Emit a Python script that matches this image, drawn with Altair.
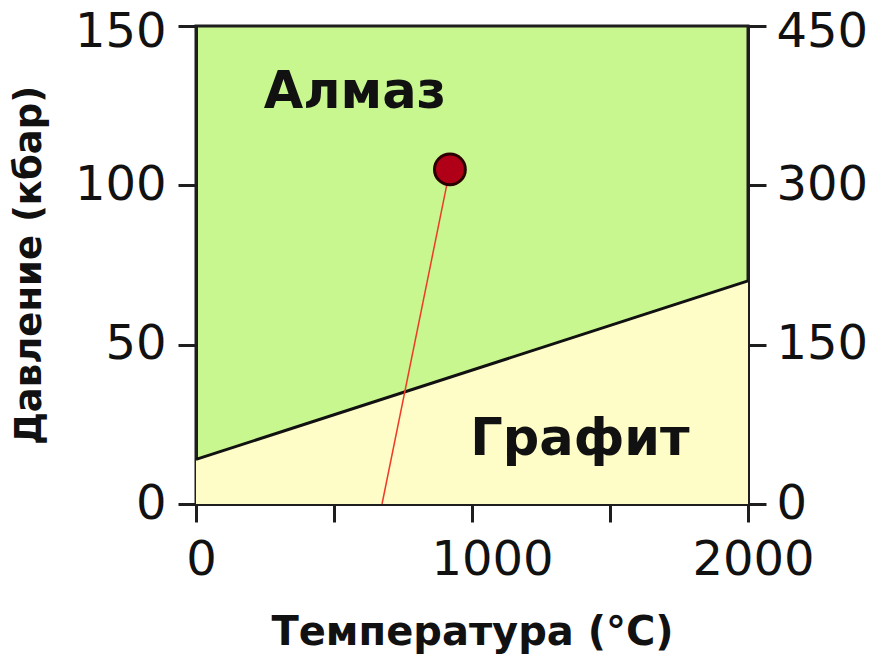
import altair as alt
import pandas as pd

# ---- data ----
temp_bound = [0, 2000]          # °C
press_bound = [14, 70]          # kbar, graphite/diamond boundary
path_temp = [674, 920]          # red path
path_press = [0, 105]
dot_temp = [920]
dot_press = [105]
phase_names = ["Алмаз", "Графит"]
phase_temp = [576, 1391]
phase_press = [129, 20]
x_ticks = [0, 500, 1000, 1500, 2000]
y_ticks = [0, 50, 100, 150]
y2_ticks = [0, 150, 300, 450]

FONT = "DejaVu Sans"
GREEN = "#c8f78f"
YELLOW = "#fefdc8"
DARK = "#1e1e1e"

bound_df = pd.DataFrame({"t": temp_bound, "p": press_bound})
path_df = pd.DataFrame({"t": path_temp, "p": path_press})
dot_df = pd.DataFrame({"t": dot_temp, "p": dot_press})
phase_df = pd.DataFrame({"name": phase_names, "t": phase_temp, "p": phase_press})
right_df = pd.DataFrame({"t": [0], "v": [0]})

xs = alt.Scale(domain=[0, 2000], nice=False, zero=False)
ys = alt.Scale(domain=[0, 150], nice=False)

common_axis = dict(
    domainColor=DARK, domainWidth=3, tickColor=DARK, tickWidth=3, tickSize=18,
    labelFont=FONT, labelFontSize=48, labelColor="#111", grid=False,
    titleFont=FONT, titleFontWeight="bold", titleColor="#111",
)

x_axis = alt.Axis(
    values=x_ticks, format="d",
    labelExpr="datum.value % 1000 == 0 ? datum.label : ''",
    labelOffset={"condition": {"test": "datum.value == 1000", "value": 20}, "value": 5},
    title="Температура (°C)", titleFontSize=40, titlePadding=28,
    labelPadding=14, labelFlush=False, labelOverlap=False,
    **common_axis,
)
y_axis = alt.Axis(
    values=y_ticks, format="d", title="Давление (кбар)",
    labelOffset={"condition": {"test": "datum.value == 150", "value": 6},
                 "value": {"expr": "0"}} if False else
                {"condition": {"test": "datum.value == 150", "value": 6}, "value": 0},
    titleFontSize=37, titlePadding=26, labelPadding=12,
    labelOverlap=False, **common_axis,
)
y2_axis = alt.Axis(
    orient="right", values=y2_ticks, format="d", title=None,
    labelOffset={"condition": {"test": "datum.value == 450", "value": 6},
                 "value": 0},
    labelPadding=10, labelOverlap=False, **common_axis,
)

X = alt.X("t:Q", scale=xs, axis=x_axis)
Y = alt.Y("p:Q", scale=ys, axis=y_axis)

area = alt.Chart(bound_df).mark_area(color=YELLOW, opacity=1).encode(
    x=X, y=Y, y2=alt.datum(0),
)
boundary = alt.Chart(bound_df).mark_line(color="#111", strokeWidth=3).encode(
    x=X, y=Y,
)
path = alt.Chart(path_df).mark_line(color="#f03a28", strokeWidth=1.5).encode(
    x=X, y=Y,
)
dot = alt.Chart(dot_df).mark_point(
    filled=True, shape="circle", size=950, fill="#b00018", stroke="#2a0000",
    strokeWidth=3, opacity=1,
).encode(x=X, y=Y)
labels = alt.Chart(phase_df).mark_text(
    font=FONT, fontSize=51, fontWeight="bold", color="#111",
    align="center", baseline="middle",
).encode(x=X, y=Y, text="name:N")

left = alt.layer(area, boundary, path, dot, labels)

right = alt.Chart(right_df).mark_point(opacity=0).encode(
    x=X,
    y=alt.Y("v:Q", scale=alt.Scale(domain=[0, 450], nice=False), axis=y2_axis),
)

chart = alt.layer(left, right).resolve_scale(y="independent").properties(
    width=552, height=478,
    autosize=alt.AutoSizeParams(type="none"),
    padding={"left": 196, "top": 26, "right": 147, "bottom": 151},
    background="white",
).configure_view(
    fill=GREEN, stroke=DARK, strokeWidth=3,
)

chart.save("out.html", embed_options={"renderer": "svg", "actions": False})
